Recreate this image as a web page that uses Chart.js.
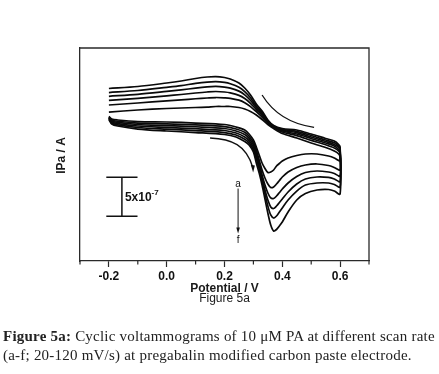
<!DOCTYPE html>
<html>
<head>
<meta charset="utf-8">
<script src="https://cdn.jsdelivr.net/npm/chart.js@4.4.1/dist/chart.umd.min.js"></script>
<style>
  html, body { margin: 0; padding: 0; background: #ffffff; }
  #wrap { position: relative; width: 439px; height: 374px; overflow: hidden; }
  #c { position: absolute; left: 0; top: 0; }
  .cap { position: absolute; left: 3px; font-family: "Liberation Serif", "DejaVu Serif", serif;
         font-size: 15px; line-height: 18.3px; letter-spacing: 0.22px; color: #222; white-space: nowrap; }
</style>
</head>
<body>
<div id="wrap">
  <canvas id="c" width="439" height="374"></canvas>
  <div class="cap" style="top:327.2px"><b>Figure 5a:</b> Cyclic voltammograms of 10 μM PA at different scan rate</div>
  <div class="cap" style="top:345.5px">(a-f; 20-120 mV/s) at pregabalin modified carbon paste electrode.</div>
</div>
<script>
// ---- data (potential in V, current in units of 1e-7 A) ----
const SCAN_LABELS = ['a', 'b', 'c', 'd', 'e', 'f'];
const SCAN_RATES = [20, 40, 60, 80, 100, 120]; // mV/s

// forward sweep, -0.2 V -> 0.6 V
const E_FORWARD = [-0.2, -0.19, -0.17, -0.1, 0.0, 0.1, 0.2, 0.24, 0.27, 0.285, 0.3, 0.31, 0.32, 0.33, 0.34, 0.35, 0.36, 0.37, 0.38, 0.39, 0.40, 0.42, 0.45, 0.48, 0.52, 0.56, 0.58, 0.6];
const I_FWD_A = [4.94, 4.62, 4.49, 4.29, 4.23, 4.10, 3.91, 3.59, 3.21, 2.69, 1.92, 1.03, 0.00, -1.03, -1.73, -2.24, -2.18, -1.92, -1.41, -1.09, -0.77, -0.38, -0.06, 0.13, 0.13, -0.13, -0.38, -0.77];
const I_FWD_B = [4.87, 4.49, 4.33, 4.10, 4.00, 3.86, 3.65, 3.33, 2.91, 2.41, 1.62, 0.64, -0.64, -1.92, -2.95, -3.72, -4.17, -4.10, -3.72, -3.27, -2.82, -2.18, -1.60, -1.28, -1.15, -1.35, -1.60, -1.92];
const I_FWD_C = [4.81, 4.36, 4.18, 3.91, 3.77, 3.62, 3.40, 3.08, 2.62, 2.13, 1.31, 0.26, -1.03, -2.56, -3.85, -4.87, -5.51, -5.58, -5.26, -4.81, -4.36, -3.59, -2.76, -2.24, -2.05, -2.18, -2.37, -2.69];
const I_FWD_D = [4.74, 4.23, 4.03, 3.72, 3.54, 3.37, 3.14, 2.82, 2.32, 1.85, 1.00, -0.13, -1.41, -2.95, -4.49, -5.77, -6.67, -6.86, -6.54, -6.09, -5.64, -4.74, -3.72, -3.08, -2.82, -2.88, -3.08, -3.40];
const I_FWD_E = [4.68, 4.10, 3.87, 3.53, 3.31, 3.13, 2.88, 2.56, 2.03, 1.56, 0.69, -0.51, -1.79, -3.33, -5.00, -6.54, -7.69, -8.08, -7.82, -7.31, -6.79, -5.77, -4.62, -3.85, -3.59, -3.59, -3.78, -4.10];
const I_FWD_F = [4.55, 3.97, 3.72, 3.33, 3.08, 2.88, 2.63, 2.31, 1.73, 1.28, 0.38, -1.03, -2.31, -3.85, -5.64, -7.44, -8.97, -9.74, -9.55, -9.10, -8.59, -7.31, -5.77, -4.94, -4.49, -4.42, -4.62, -5.00];

// reverse sweep, 0.6 V -> -0.2 V
const E_REVERSE = [0.6, 0.595, 0.58, 0.55, 0.5, 0.45, 0.4, 0.37, 0.35, 0.33, 0.31, 0.29, 0.27, 0.25, 0.22, 0.2, 0.17, 0.14, 0.1, 0.05, 0.0, -0.1, -0.2];
const I_REV_A = [-0.26, 0.13, 0.51, 0.96, 1.54, 2.18, 2.76, 3.40, 3.91, 4.55, 5.13, 5.58, 5.90, 6.09, 6.22, 6.22, 6.22, 6.15, 6.09, 6.03, 5.96, 5.77, 5.51];
const I_REV_B = [0.13, 0.51, 0.90, 1.31, 1.88, 2.49, 2.95, 3.51, 4.08, 4.87, 5.55, 6.21, 6.71, 7.03, 7.27, 7.33, 7.37, 7.31, 7.21, 7.06, 6.94, 6.67, 6.41];
const I_REV_C = [0.38, 0.71, 1.15, 1.54, 2.12, 2.69, 3.08, 3.59, 4.19, 5.09, 5.83, 6.63, 7.24, 7.65, 7.97, 8.08, 8.14, 8.08, 7.95, 7.76, 7.59, 7.27, 7.01];
const I_REV_D = [0.58, 0.96, 1.35, 1.73, 2.31, 2.87, 3.18, 3.65, 4.29, 5.28, 6.08, 7.00, 7.71, 8.19, 8.58, 8.71, 8.79, 8.73, 8.58, 8.35, 8.15, 7.78, 7.53];
const I_REV_E = [0.83, 1.15, 1.58, 1.92, 2.50, 3.03, 3.28, 3.72, 4.38, 5.46, 6.29, 7.33, 8.13, 8.69, 9.14, 9.31, 9.41, 9.35, 9.18, 8.90, 8.68, 8.27, 8.01];
const I_REV_F = [1.03, 1.35, 1.79, 2.12, 2.69, 3.21, 3.40, 3.78, 4.49, 5.64, 6.54, 7.69, 8.59, 9.23, 9.74, 9.94, 10.06, 10.00, 9.81, 9.49, 9.23, 8.78, 8.53];

const FORWARD = [I_FWD_A, I_FWD_B, I_FWD_C, I_FWD_D, I_FWD_E, I_FWD_F];
const REVERSE = [I_REV_A, I_REV_B, I_REV_C, I_REV_D, I_REV_E, I_REV_F];

const X_TICK_VALUES = [-0.2, 0.0, 0.2, 0.4, 0.6];
const SCALE_BAR = 5; // 5 x 10^-7 A

// ---- build datasets ----
const datasets = SCAN_LABELS.map((lab, k) => {
  const pts = [];
  E_FORWARD.forEach((e, i) => pts.push({ x: e, y: FORWARD[k][i] }));
  E_REVERSE.forEach((e, i) => pts.push({ x: e, y: REVERSE[k][i] }));
  return {
    label: lab + ' (' + SCAN_RATES[k] + ' mV/s)',
    data: pts,
    showLine: true,
    borderColor: '#0a0a0a',
    borderWidth: 1.7,
    pointRadius: 0,
    tension: 0.3,
    fill: false
  };
});

const FRAME = '#2a2a2a';
const SANS = '"Liberation Sans", Arial, sans-serif';

const decorPlugin = {
  id: 'decor',
  afterDraw(chart) {
    const ctx = chart.ctx;
    const xs = chart.scales.x, ys = chart.scales.y;
    const a = chart.chartArea;
    const X = v => xs.getPixelForValue(v), Y = v => ys.getPixelForValue(v);
    ctx.save();
    // frame (top & right)
    ctx.strokeStyle = FRAME; ctx.lineWidth = 1.3;
    ctx.beginPath();
    ctx.moveTo(a.left, a.top); ctx.lineTo(a.right, a.top); ctx.lineTo(a.right, a.bottom);
    ctx.stroke();
    // minor ticks
    ctx.lineWidth = 1.2;
    for (let k = -3; k <= 7; k += 2) {
      const px = X(k / 10);
      ctx.beginPath(); ctx.moveTo(px, a.bottom); ctx.lineTo(px, a.bottom + 3.5); ctx.stroke();
    }
    // y title
    ctx.fillStyle = '#1a1a1a';
    ctx.font = 'bold 12px ' + SANS;
    ctx.textAlign = 'center'; ctx.textBaseline = 'middle';
    ctx.save(); ctx.translate(62, (a.top + a.bottom) / 2 + 1); ctx.rotate(-Math.PI / 2);
    ctx.fillText('IPa / A', 0, 0); ctx.restore();
    // x title and figure label
    ctx.textBaseline = 'alphabetic';
    ctx.fillText('Potential / V', (a.left + a.right) / 2, 291.5);
    ctx.font = '12px ' + SANS;
    ctx.fillText('Figure 5a', (a.left + a.right) / 2, 302);

    // scale bar (5 x 10^-7 A)
    const sbX = -0.155, sbTop = -2.85, sbBot = sbTop - SCALE_BAR, hw = 0.054;
    ctx.strokeStyle = '#111'; ctx.lineWidth = 1.5;
    ctx.beginPath();
    ctx.moveTo(X(sbX), Y(sbTop)); ctx.lineTo(X(sbX), Y(sbBot));
    ctx.moveTo(X(sbX - hw), Y(sbTop)); ctx.lineTo(X(sbX + hw), Y(sbTop));
    ctx.moveTo(X(sbX - hw), Y(sbBot)); ctx.lineTo(X(sbX + hw), Y(sbBot));
    ctx.stroke();
    ctx.fillStyle = '#111';
    ctx.textAlign = 'left'; ctx.textBaseline = 'alphabetic';
    ctx.font = 'bold 12px ' + SANS;
    const tx = X(sbX) + 3, ty = Y((sbTop + sbBot) / 2) + 4.5;
    ctx.fillText('5x10', tx, ty);
    const w = ctx.measureText('5x10').width;
    ctx.font = 'bold 8px ' + SANS;
    ctx.fillText('-7', tx + w, ty - 6);

    // a -> f arrow
    const ax = 0.247;
    ctx.font = '10px ' + SANS; ctx.textAlign = 'center'; ctx.textBaseline = 'middle';
    ctx.fillText('a', X(ax), Y(-3.70));
    ctx.fillText('f', X(ax), Y(-10.9));
    ctx.lineWidth = 1;
    ctx.beginPath(); ctx.moveTo(X(ax), Y(-4.30)); ctx.lineTo(X(ax), Y(-9.6)); ctx.stroke();
    ctx.beginPath();
    ctx.moveTo(X(ax), Y(-10.05)); ctx.lineTo(X(ax) - 1.8, Y(-9.3)); ctx.lineTo(X(ax) + 1.8, Y(-9.3)); ctx.closePath(); ctx.fill();

    // scan-direction arrows
    ctx.lineWidth = 1.3;
    ctx.beginPath();
    ctx.moveTo(X(0.150), Y(2.18));
    ctx.bezierCurveTo(X(0.225), Y(2.05), X(0.275), Y(1.30), X(0.298), Y(-1.6));
    ctx.stroke();
    ctx.beginPath();
    ctx.moveTo(X(0.299), Y(-2.25)); ctx.lineTo(X(0.291), Y(-1.25)); ctx.lineTo(X(0.305), Y(-1.35)); ctx.closePath(); ctx.fill();

    ctx.beginPath();
    ctx.moveTo(X(0.330), Y(7.69));
    ctx.bezierCurveTo(X(0.365), Y(5.6), X(0.42), Y(4.0), X(0.51), Y(3.55));
    ctx.stroke();
    ctx.restore();
  }
};

new Chart(document.getElementById('c'), {
  type: 'scatter',
  data: { datasets },
  plugins: [decorPlugin],
  options: {
    responsive: false,
    maintainAspectRatio: false,
    devicePixelRatio: 1,
    animation: false,
    layout: { padding: { left: 0, top: 48, right: 70, bottom: 0 } },
    plugins: { legend: { display: false }, tooltip: { enabled: false } },
    scales: {
      x: {
        type: 'linear', position: 'bottom', min: -0.3, max: 0.7,
        ticks: {
          stepSize: 0.1, autoSkip: false, maxRotation: 0, padding: 2,
          color: '#111',
          font: { family: SANS, size: 12, weight: 'bold' },
          callback: (v) => {
            const k = Math.round(v * 10);
            const hit = X_TICK_VALUES.find(t => Math.round(t * 10) === k);
            return hit === undefined ? '' : hit.toFixed(1);
          }
        },
        grid: {
          drawOnChartArea: false, tickLength: 6, tickWidth: 1.2,
          tickColor: (c) => {
            const k = Math.round(c.tick.value * 10);
            return X_TICK_VALUES.some(t => Math.round(t * 10) === k) ? FRAME : 'rgba(0,0,0,0)';
          }
        },
        border: { display: true, color: FRAME, width: 1.3 },
        afterFit: (s) => { s.height = 113; }
      },
      y: {
        type: 'linear', position: 'left', min: -13.59, max: 13.72,
        ticks: { display: false },
        grid: { display: false, drawTicks: false },
        border: { display: true, color: FRAME, width: 1.3 },
        afterFit: (s) => { s.width = 80; }
      }
    }
  }
});
</script>
</body>
</html>
